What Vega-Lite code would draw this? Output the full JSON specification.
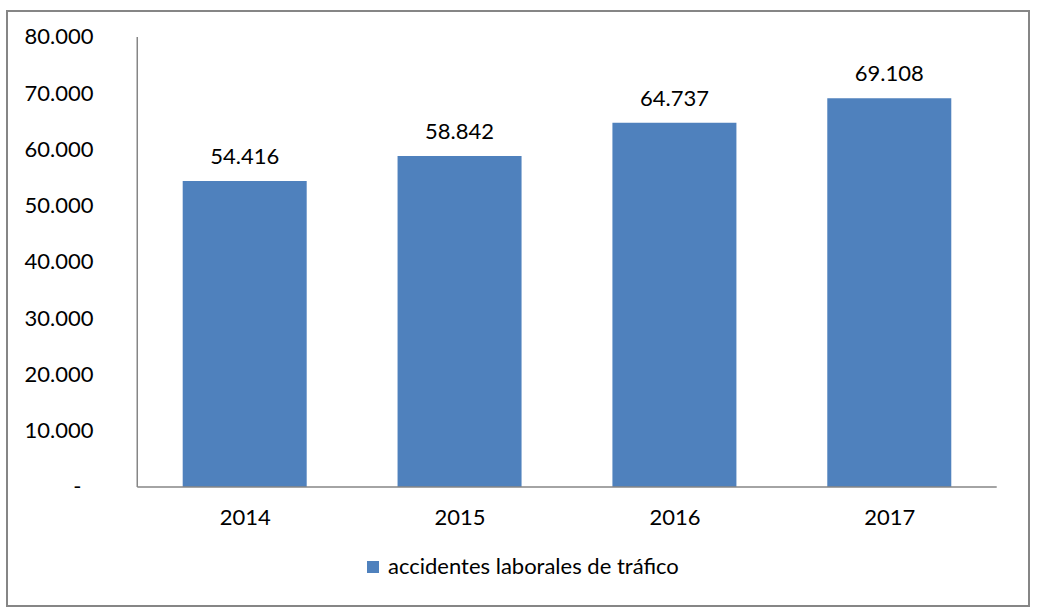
{
  "$schema": "https://vega.github.io/schema/vega-lite/v6.json",
  "description": "Accidentes laborales de tráfico 2014-2017",
  "autosize": {"type": "none"},
  "padding": {"left": 7, "top": 11, "right": 8, "bottom": 6},
  "width": 1022,
  "height": 595,
  "background": "white",
  "data": {
    "values": [
      {"anio": 2014, "accidentes": 54416, "serie": "accidentes laborales de tráfico"},
      {"anio": 2015, "accidentes": 58842, "serie": "accidentes laborales de tráfico"},
      {"anio": 2016, "accidentes": 64737, "serie": "accidentes laborales de tráfico"},
      {"anio": 2017, "accidentes": 69108, "serie": "accidentes laborales de tráfico"}
    ]
  },
  "encoding": {
    "x": {
      "field": "anio",
      "type": "quantitative",
      "scale": {"domain": [2012.917, 2017.627], "nice": false, "zero": false},
      "axis": {
        "title": null,
        "values": [2014, 2015, 2016, 2017],
        "format": "d",
        "offset": -119,
        "domain": false,
        "ticks": false,
        "grid": false,
        "labelPadding": 20,
        "labelFont": "Lato",
        "labelFontSize": 22,
        "labelColor": "#000"
      }
    },
    "y": {
      "field": "accidentes",
      "type": "quantitative",
      "scale": {"domain": [-21155.6, 84622.2], "nice": false, "zero": false},
      "axis": {
        "title": null,
        "values": [0, 10000, 20000, 30000, 40000, 50000, 60000, 70000, 80000],
        "labelExpr": "datum.value == 0 ? '-' : format(datum.value, ',')",
        "offset": -126,
        "domain": false,
        "ticks": false,
        "grid": false,
        "labelPadding": {"condition": {"test": "datum.value == 0", "value": 52}, "value": 40},
        "labelFont": "Lato",
        "labelFontSize": 22,
        "labelColor": "#000"
      }
    }
  },
  "layer": [
    {
      "mark": {"type": "bar", "width": 124},
      "encoding": {
        "color": {
          "field": "serie",
          "type": "nominal",
          "scale": {"range": ["#4f81bd"]},
          "legend": {
            "title": null,
            "orient": "none",
            "legendX": 355,
            "legendY": 545,
            "symbolType": "square",
            "symbolSize": 144,
            "symbolStrokeWidth": 0,
            "labelFont": "Lato",
            "labelFontSize": 22,
            "labelColor": "#000",
            "labelLimit": 400
          }
        }
      }
    },
    {
      "mark": {"type": "text", "baseline": "alphabetic", "dy": -17, "font": "Lato", "fontSize": 22, "color": "#000"},
      "encoding": {
        "text": {"field": "accidentes", "type": "quantitative", "format": ","}
      }
    },
    {
      "data": {"values": [{"x0": 2013.5, "y0": 0, "y1": 80000}]},
      "mark": {"type": "rule", "color": "#868686", "strokeWidth": 1.5},
      "encoding": {
        "x": {"field": "x0", "type": "quantitative"},
        "y": {"field": "y0", "type": "quantitative"},
        "y2": {"field": "y1"}
      }
    },
    {
      "data": {"values": [{"x0": 2013.5, "x1": 2017.5, "y0": 0}]},
      "mark": {"type": "rule", "color": "#868686", "strokeWidth": 1.5},
      "encoding": {
        "x": {"field": "x0", "type": "quantitative"},
        "x2": {"field": "x1"},
        "y": {"field": "y0", "type": "quantitative"}
      }
    }
  ],
  "config": {
    "locale": {
      "number": {"decimal": ",", "thousands": ".", "grouping": [3], "currency": ["", " €"]}
    },
    "view": {"stroke": "#868686", "strokeWidth": 2}
  }
}
